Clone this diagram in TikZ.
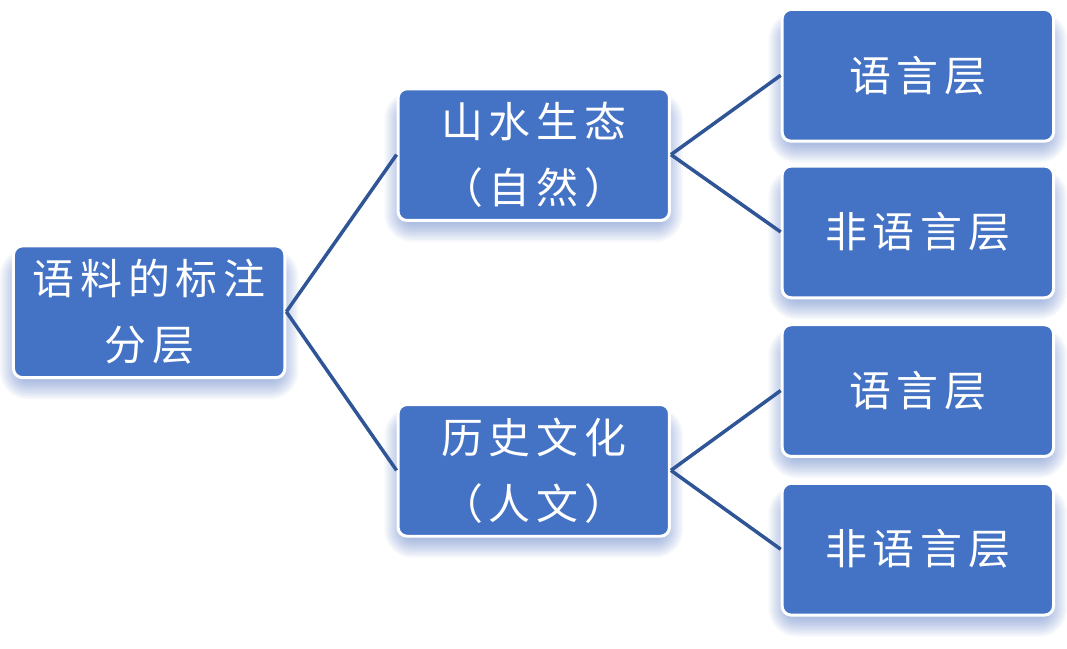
\documentclass[tikz,border=0pt]{standalone}
\usepackage{fontspec}
\newfontfamily\cjk[LetterSpace=14]{Noto Sans CJK SC}
\usetikzlibrary{calc,backgrounds}
\definecolor{boxblue}{HTML}{4472C4}
\definecolor{linkblue}{HTML}{2F5597}
\definecolor{glow}{HTML}{3F66C0}
\tikzset{
  box/.style={draw=white, line width=3pt, fill=boxblue, rounded corners=9pt,
    minimum width=272pt, minimum height=132pt, align=center, text=white,
    font=\cjk\fontsize{42}{66}\selectfont, inner sep=0pt},
  link/.style={draw=linkblue, line width=3.5pt},
  glowlayer/.style={fill=glow, opacity=0.05}
}
\newcommand\glowunder[1]{%
  \foreach \r in {0,2,...,18}{%
    \fill[glowlayer, rounded corners=10pt+\r pt]
      ($(#1.south west)+(6pt-\r pt,-2pt-\r pt)$) rectangle
      ($(#1.north east)+(-6pt+\r pt,-22pt+\r pt)$);
  }%
}
\begin{document}
\begin{tikzpicture}[x=1pt,y=1pt]
\node[box] (root) at (149.5,-312.5) {语料的标注\\分层};
\node[box] (nat) at (535,-155) {山水生态\\（自然）};
\node[box] (hum) at (535,-471.5) {历史文化\\（人文）};
\node[box] (l1) at (920,-75.5) {语言层};
\node[box] (l2) at (920,-232.5) {非语言层};
\node[box] (l3) at (920,-391.5) {语言层};
\node[box] (l4) at (920,-550.5) {非语言层};
\begin{pgfonlayer}{background}
\fill[white] (0,-650) rectangle (1067,0);
\glowunder{root}\glowunder{nat}\glowunder{hum}
\glowunder{l1}\glowunder{l2}\glowunder{l3}\glowunder{l4}
\end{pgfonlayer}
\draw[link] (root.east) -- (nat.west);
\draw[link] (root.east) -- (hum.west);
\draw[link] (nat.east) -- (l1.west);
\draw[link] (nat.east) -- (l2.west);
\draw[link] (hum.east) -- (l3.west);
\draw[link] (hum.east) -- (l4.west);
\useasboundingbox (0,-650) rectangle (1067,0);
\end{tikzpicture}
\end{document}
